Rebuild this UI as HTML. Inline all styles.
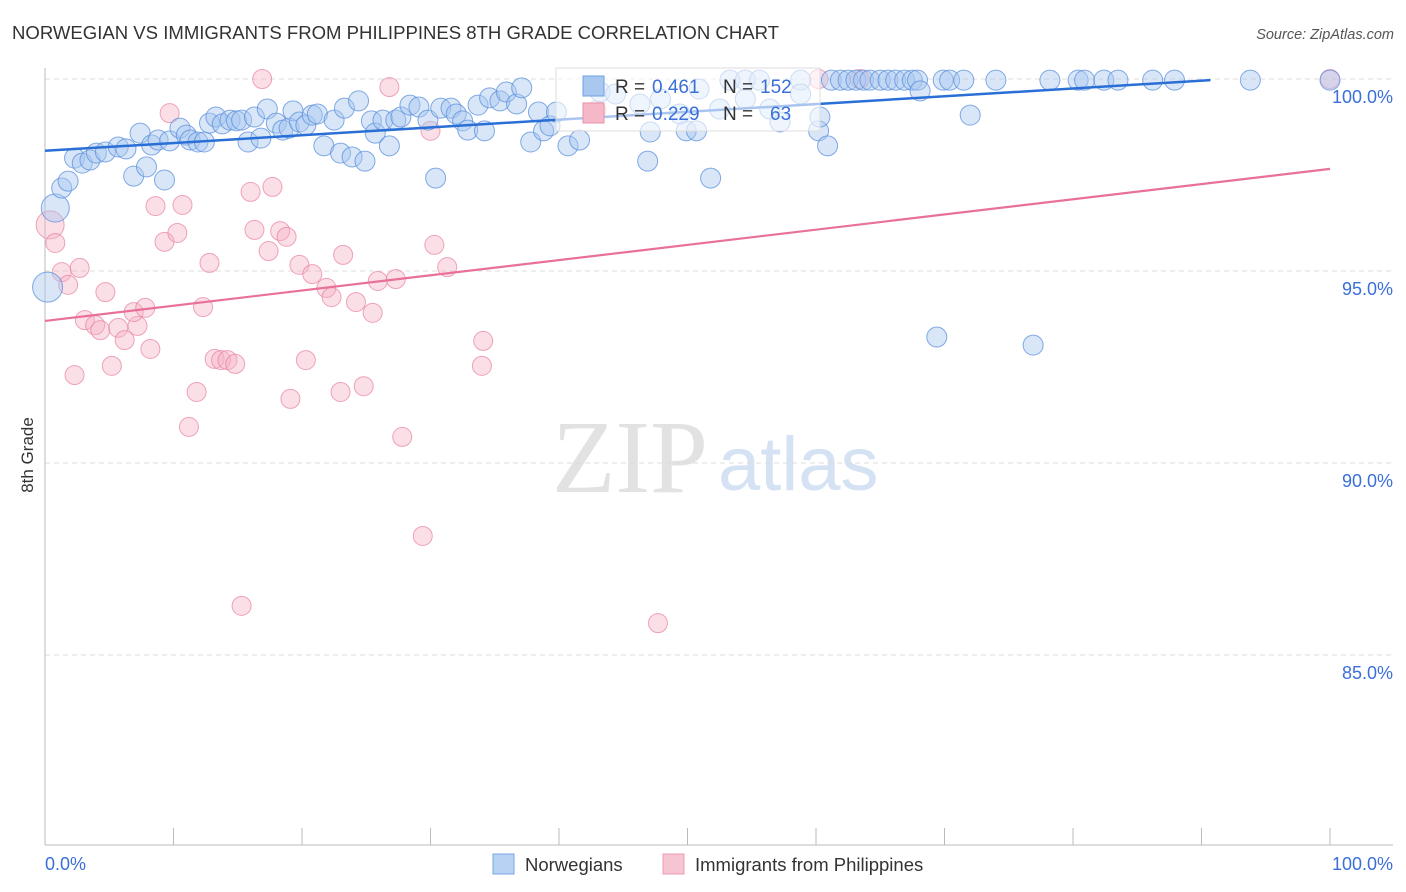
<!DOCTYPE html>
<html><head><meta charset="utf-8"><style>
body{margin:0;background:#fff;font-family:"Liberation Sans",sans-serif;}
svg{display:block}
</style></head><body>
<svg id="chart" width="1406" height="892" xmlns="http://www.w3.org/2000/svg" font-family="Liberation Sans, sans-serif">
<text x="12" y="39" font-size="18.5" fill="#333" textLength="767" lengthAdjust="spacingAndGlyphs">NORWEGIAN VS IMMIGRANTS FROM PHILIPPINES 8TH GRADE CORRELATION CHART</text>
<text x="1394" y="39" font-size="14.5" fill="#555" font-style="italic" text-anchor="end">Source: ZipAtlas.com</text>
<g>
<text x="552" y="492" font-size="104" font-family="Liberation Serif, serif" fill="#e2e2e2">ZIP</text>
<text x="718" y="490" font-size="76" fill="#d4e2f4">atlas</text>
</g>
<g id="grid"></g>
<g id="axes"></g>
<g id="pinkpts"></g>
<g id="bluepts"></g>
<g id="lines"></g>
<text transform="translate(33,455) rotate(-90)" font-size="17" fill="#333" text-anchor="middle">8th Grade</text>
<g>
<rect x="556" y="68" width="264" height="63" fill="#fff" fill-opacity="0.6" stroke="#ddd"/>
<rect x="583" y="76" width="21" height="20" fill="#a9c8f0" stroke="#6f9fe0"/>
<rect x="583" y="103" width="21" height="20" fill="#f5b8c8" stroke="#e890a8"/>
<text x="615" y="93" font-size="19" fill="#333">R =</text><text x="652" y="93" font-size="19" fill="#3a6fd8">0.461</text>
<text x="723" y="93" font-size="19" fill="#333">N =</text><text x="760" y="93" font-size="19" fill="#3a6fd8">152</text>
<text x="615" y="120" font-size="19" fill="#333">R =</text><text x="652" y="120" font-size="19" fill="#3a6fd8">0.229</text>
<text x="723" y="120" font-size="19" fill="#333">N =</text><text x="770" y="120" font-size="19" fill="#3a6fd8">63</text>
</g>
<g>
<rect x="493" y="854" width="21" height="20" fill="#b8d2f3" stroke="#7aa6e2"/>
<text x="525" y="871" font-size="18.5" fill="#333">Norwegians</text>
<rect x="663" y="854" width="21" height="20" fill="#f7c4d2" stroke="#eb9db3"/>
<text x="695" y="871" font-size="18.5" fill="#333">Immigrants from Philippines</text>
</g>
</svg>
<script>
const yTicks=[100,95,90,85];
const xTickVals=[0,10,20,30,40,50,60,70,80,90,100];
const blueX=[0.8,0.2,1.3,1.8,2.3,2.9,3.5,4.0,4.7,5.7,6.3,6.9,7.4,7.9,8.3,8.8,9.3,9.7,10.5,11.0,11.3,11.9,12.4,12.8,13.3,13.8,14.4,14.9,15.3,15.8,16.3,16.8,17.3,18.0,18.5,19.0,19.3,19.8,20.3,20.8,21.2,21.7,22.5,23.0,23.3,23.9,24.4,24.9,25.4,25.7,26.3,26.8,27.3,27.7,28.4,29.1,29.8,30.4,30.8,31.6,32.0,32.5,32.9,33.7,34.2,34.6,35.4,35.9,36.7,37.1,37.8,38.4,38.8,39.3,39.8,40.7,41.6,43.2,47.1,46.9,49.9,50.7,51.8,53.3,54.5,55.6,57.2,58.8,60.2,60.9,61.2,61.9,62.5,63.1,63.7,64.2,65.0,65.6,66.2,66.9,67.5,67.9,68.1,69.4,69.9,70.4,71.5,72.0,74.0,76.9,78.2,80.4,80.9,82.4,83.5,86.2,87.9,93.8,100,44.4,46.3,47.9,50.9,52.5,54.5,56.4,58.8,60.3,49.4];
const blueY=[96.64,94.58,97.16,97.34,97.94,97.81,97.89,98.07,98.1,98.23,98.18,97.47,98.59,97.71,98.28,98.41,97.37,98.39,98.72,98.54,98.41,98.36,98.36,98.85,99.01,98.83,98.93,98.91,98.93,98.36,99.01,98.46,99.22,98.85,98.67,98.72,99.17,98.88,98.8,99.06,99.09,98.26,98.93,98.07,99.24,97.97,99.43,97.86,98.91,98.59,98.93,98.26,98.93,99.01,99.32,99.27,98.93,97.42,99.24,99.24,99.09,98.91,98.67,99.32,98.65,99.51,99.43,99.66,99.35,99.77,98.36,99.14,98.65,98.78,99.14,98.26,98.41,99.66,98.62,97.86,98.65,98.65,97.42,99.97,99.97,99.97,98.88,99.97,98.65,98.26,99.97,99.97,99.97,99.97,99.97,99.97,99.97,99.97,99.97,99.97,99.97,99.97,99.69,93.28,99.97,99.97,99.97,99.06,99.97,93.07,99.97,99.97,99.97,99.97,99.97,99.97,99.97,99.97,99.97,99.61,99.35,99.48,99.74,99.22,99.48,99.22,99.61,99.01,99.09];
const blueR=[14,15];
const pinkX=[0.4,0.8,1.3,1.8,2.3,2.7,3.1,3.9,4.3,4.7,5.2,5.7,6.2,7.2,6.9,7.8,8.2,8.6,9.3,9.7,10.3,10.7,11.2,11.8,12.3,12.8,13.2,13.7,14.2,14.8,15.3,16.0,16.3,16.9,17.4,17.7,18.3,18.8,19.1,19.8,20.3,20.8,21.9,22.3,23.0,23.2,24.2,24.8,25.5,25.9,26.8,27.3,27.8,29.4,30.0,30.3,31.3,34.1,34.0,47.7,42.9,60.2,63.4,100];
const pinkY=[96.2,95.73,94.97,94.64,92.29,95.08,93.72,93.59,93.46,94.45,92.53,93.52,93.2,93.57,93.93,94.04,92.97,96.69,95.76,99.11,95.99,96.72,90.94,91.85,94.06,95.21,92.71,92.68,92.68,92.58,86.28,97.06,96.07,100,95.52,97.19,96.04,95.89,91.67,95.16,92.68,94.92,94.56,94.32,91.85,95.42,94.19,92.0,93.91,94.74,99.79,94.79,90.68,88.1,98.65,95.68,95.1,93.18,92.53,85.83,99.19,100,100,100];
const pinkR=[14];
const blueLine=[0,90.7,98.13,99.97];
const pinkLine=[0,100,93.70,97.66];
const X=v=>45+v*12.85;
const Y=v=>79+(100-v)*38.4;
const NS='http://www.w3.org/2000/svg';
function mk(tag,attrs,parent){const e=document.createElementNS(NS,tag);for(const k in attrs)e.setAttribute(k,attrs[k]);parent.appendChild(e);return e;}
const grid=document.getElementById('grid'),axes=document.getElementById('axes');
yTicks.forEach(t=>{
 const l=mk('line',{x1:45,x2:1393,y1:Y(t),y2:Y(t),stroke:'#dcdcdc','stroke-dasharray':'5,4'},grid);
 
 
 const tx=mk('text',{x:1393,y:Y(t)+24,'font-size':18,fill:'#3a6fd8','text-anchor':'end'},axes);
 tx.textContent=t.toFixed(1)+'%';
 
 
});
const ax=mk('line',{x1:45,x2:45,y1:68,y2:845,stroke:'#bbb'},axes);


const bx=mk('line',{x1:45,x2:1393,y1:845,y2:845,stroke:'#bbb'},axes);


xTickVals.forEach(t=>{
 const tk=mk('line',{x1:X(t),x2:X(t),y1:828,y2:845,stroke:'#bbb'},axes);
 
 
});
const xl0=mk('text',{x:45,y:870,'font-size':18,fill:'#3a6fd8'},axes);xl0.textContent='0.0%';


const xl1=mk('text',{x:1393,y:870,'font-size':18,fill:'#3a6fd8','text-anchor':'end'},axes);xl1.textContent='100.0%';


const pg=document.getElementById('pinkpts');
pinkX.forEach((v,i)=>{
 const c=mk('circle',{cx:X(v),cy:Y(pinkY[i]),r:pinkR[i]||9.5,fill:'#f5b0c4','fill-opacity':0.4,stroke:'#e8809e','stroke-opacity':0.7,'stroke-width':1},pg);
 
 
});
const bg=document.getElementById('bluepts');
blueX.forEach((v,i)=>{
 const c=mk('circle',{cx:X(v),cy:Y(blueY[i]),r:blueR[i]||10,fill:'#a8c8f0','fill-opacity':0.45,stroke:'#5a8fdc','stroke-opacity':0.75,'stroke-width':1},bg);
 
 
});
const lg=document.getElementById('lines');
const b=mk('line',{x1:X(blueLine[0]),x2:X(blueLine[1]),y1:Y(blueLine[2]),y2:Y(blueLine[3]),stroke:'#2a6fd6','stroke-width':2.5},lg);


const p=mk('line',{x1:X(pinkLine[0]),x2:X(pinkLine[1]),y1:Y(pinkLine[2]),y2:Y(pinkLine[3]),stroke:'#e8709a','stroke-width':2.2},lg);


</script>
</body></html>
